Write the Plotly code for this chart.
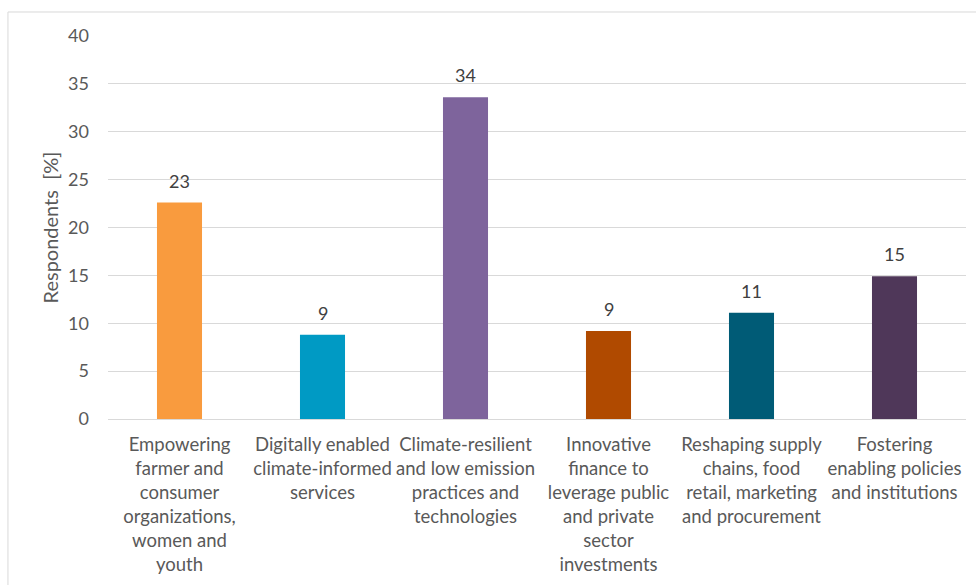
import plotly.graph_objects as go

categories = [
    "Empowering<br>farmer and<br>consumer<br>organizations,<br>women and<br>youth",
    "Digitally enabled<br>climate-informed<br>services",
    "Climate-resilient<br>and low emission<br>practices and<br>technologies",
    "Innovative<br>finance to<br>leverage public<br>and private<br>sector<br>investments",
    "Reshaping supply<br>chains, food<br>retail, marketing<br>and procurement",
    "Fostering<br>enabling policies<br>and institutions",
]
values = [22.6, 8.8, 33.6, 9.2, 11.1, 14.9]
colors = ["#F99B3E", "#009AC4", "#7E649C", "#B04A00", "#005B76", "#4F3759"]
y_ticks = [0, 5, 10, 15, 20, 25, 30, 35, 40]

FONT = "Lato, 'Open Sans', sans-serif"
GREY = "#595959"

fig = go.Figure(
    go.Bar(
        x=categories,
        y=values,
        marker=dict(color=colors, line=dict(width=0)),
        width=0.315,
    )
)

for c, v in zip(categories, values):
    fig.add_annotation(
        x=c, y=v, text=f"{v:.0f}", showarrow=False,
        yanchor="bottom", yshift=9,
        font=dict(family=FONT, size=18, color="#404040"),
    )

fig.update_layout(
    width=976,
    height=585,
    margin=dict(l=108, r=10, t=36, b=166),
    paper_bgcolor="white",
    plot_bgcolor="white",
    showlegend=False,
    font=dict(family=FONT, size=18, color=GREY),
    shapes=[
        dict(
            type="rect", xref="paper", yref="paper",
            x0=-0.1166, x1=1.02, y0=-0.46, y1=1.0627,
            line=dict(color="#D9D9D9", width=1), fillcolor="rgba(0,0,0,0)",
            layer="below",
        )
    ],
)

fig.update_yaxes(
    range=[0, 40],
    tickvals=y_ticks,
    showgrid=True,
    gridcolor="#D9D9D9",
    gridwidth=1,
    zeroline=True,
    zerolinecolor="#D9D9D9",
    zerolinewidth=1,
    showline=False,
    ticks="",
    ticklabelstandoff=18,
    tickfont=dict(family=FONT, size=18, color=GREY),
    title=dict(text="Respondents  [%]", standoff=4,
               font=dict(family=FONT, size=20, color=GREY)),
)
fig.update_xaxes(
    showgrid=False,
    showline=False,
    ticks="",
    ticklabelstandoff=12,
    tickfont=dict(family=FONT, size=18.5, color=GREY),
    tickangle=0,
)

fig.write_html("out.html")
